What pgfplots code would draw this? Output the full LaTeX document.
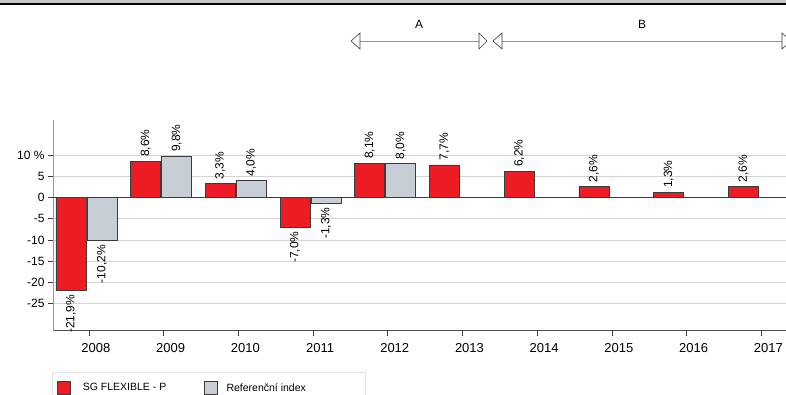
\documentclass[border=0pt]{standalone}
\usepackage{fontspec}
\setmainfont{Liberation Sans}
\usepackage{pgfplots}
\pgfplotsset{compat=1.18}
\definecolor{barred}{RGB}{237,28,36}
\definecolor{bargray}{RGB}{200,206,214}
\definecolor{barline}{RGB}{60,60,60}
\definecolor{gridc}{RGB}{212,212,212}
\definecolor{topgray}{RGB}{200,200,200}
\definecolor{legline}{RGB}{228,228,228}
\definecolor{arrline}{RGB}{150,150,150}
\pgfplotsset{ybar legend/.style={legend image code/.code={\draw[##1,draw=barline,line width=0.7pt] (0pt,-6.5pt) rectangle (13pt,6.5pt);}}}
\begin{document}
\begin{tikzpicture}
\fill[topgray] (0pt,391pt) rectangle (786pt,394pt);
\fill[black] (0pt,388.8pt) rectangle (786pt,391pt);
\begin{axis}[
  at={(53pt,63.3pt)}, anchor=south west,
  scale only axis, width=733pt, height=210.7pt,
  xmin=-0.48, xmax=9.33, ymin=-31.4, ymax=18.3,
  ybar, bar width=30pt,
  axis lines*=left,
  x axis line style={draw=barline!90, line width=0.8pt},
  y axis line style={draw=gray!80, line width=0.8pt},
  tick align=outside, major tick length=5pt,
  tick style={draw=barline, line width=0.7pt},
  xtick={0,...,9},
  xticklabels={\mbox{2008},\mbox{2009},\mbox{2010},\mbox{2011},\mbox{2012},\mbox{2013},\mbox{2014},\mbox{2015},\mbox{2016},\mbox{2017}},
  xticklabel style={font=\fontsize{13}{15}\selectfont, xshift=7pt, yshift=-4pt},
  ytick={-25,-20,-15,-10,-5,0,5,10},
  yticklabels={\mbox{-25},\mbox{-20},\mbox{-15},\mbox{-10},\mbox{-5},\mbox{0},\mbox{5},\mbox{10 \%}},
  yticklabel style={font=\fontsize{12}{14}\selectfont},
  ymajorgrids, major grid style={draw=gridc, line width=0.8pt},
  extra y ticks={0}, extra y tick labels={},
  extra y tick style={grid=major, major grid style={draw=barline, line width=1pt}, major tick length=0pt},
  /pgf/number format/assume math mode=true,
  nodes near coords={\pgfmathprintnumber[fixed,fixed zerofill,precision=1,use comma]{\pgfplotspointmeta}\%},
  nodes near coords style={font=\fontsize{12}{14}\selectfont, rotate=90, inner xsep=4pt, inner ysep=0pt},
  legend style={at={(-0.0014,-0.196)}, anchor=north west, legend columns=2,
    draw=legline, fill=white, inner xsep=5pt, inner ysep=9pt,
    font=\fontsize{10.5}{12}\selectfont,
    /tikz/column 1/.append style={column sep=12pt},
    /tikz/column 2/.append style={column sep=38pt},
    /tikz/column 3/.append style={column sep=8.5pt},
    nodes={inner sep=0pt}},
  legend cell align=left,
]
\addplot[fill=barred, draw=barline, line width=0.7pt, bar shift=-18pt,
  every node near coord/.append style={anchor=west}] coordinates {
  (1,8.6) (2,3.3) (4,8.1) (5,7.7) (6,6.2) (7,2.6) (8,1.3) (9,2.6)};
\addlegendentry{SG FLEXIBLE - P}
\addplot[fill=barred, draw=barline, line width=0.7pt, bar shift=-18pt, forget plot,
  every node near coord/.append style={anchor=east}] coordinates {
  (0,-21.9) (3,-7.0)};
\addplot[fill=bargray, draw=barline, line width=0.7pt, bar shift=13pt,
  every node near coord/.append style={anchor=west}] coordinates {
  (1,9.8) (2,4.0) (4,8.0)};
\addlegendentry{Referenční index\hspace*{54pt}}
\addplot[fill=bargray, draw=barline, line width=0.7pt, bar shift=13pt, forget plot,
  every node near coord/.append style={anchor=east}] coordinates {
  (0,-10.2) (3,-1.3)};
\end{axis}
% period annotations
\draw[arrline, line width=0.9pt] (360pt,353pt) -- (479pt,353pt);
\draw[arrline, line width=0.9pt] (502pt,353pt) -- (782pt,353pt);
\filldraw[fill=white, draw=barline, line width=0.6pt] (351pt,353pt) -- (360pt,361pt) -- (360pt,345pt) -- cycle;
\filldraw[fill=white, draw=barline, line width=0.6pt] (487pt,353pt) -- (479pt,361pt) -- (479pt,345pt) -- cycle;
\filldraw[fill=white, draw=barline, line width=0.6pt] (493pt,353pt) -- (502pt,361pt) -- (502pt,345pt) -- cycle;
\filldraw[fill=white, draw=barline, line width=0.6pt] (791pt,353pt) -- (782pt,361pt) -- (782pt,345pt) -- cycle;
\node[font=\fontsize{12}{14}\selectfont] at (419pt,370pt) {A};
\node[font=\fontsize{12}{14}\selectfont] at (642pt,370pt) {B};
\pgfresetboundingbox
\path[use as bounding box] (0pt,0pt) rectangle (786pt,394pt);
\end{tikzpicture}
\end{document}
